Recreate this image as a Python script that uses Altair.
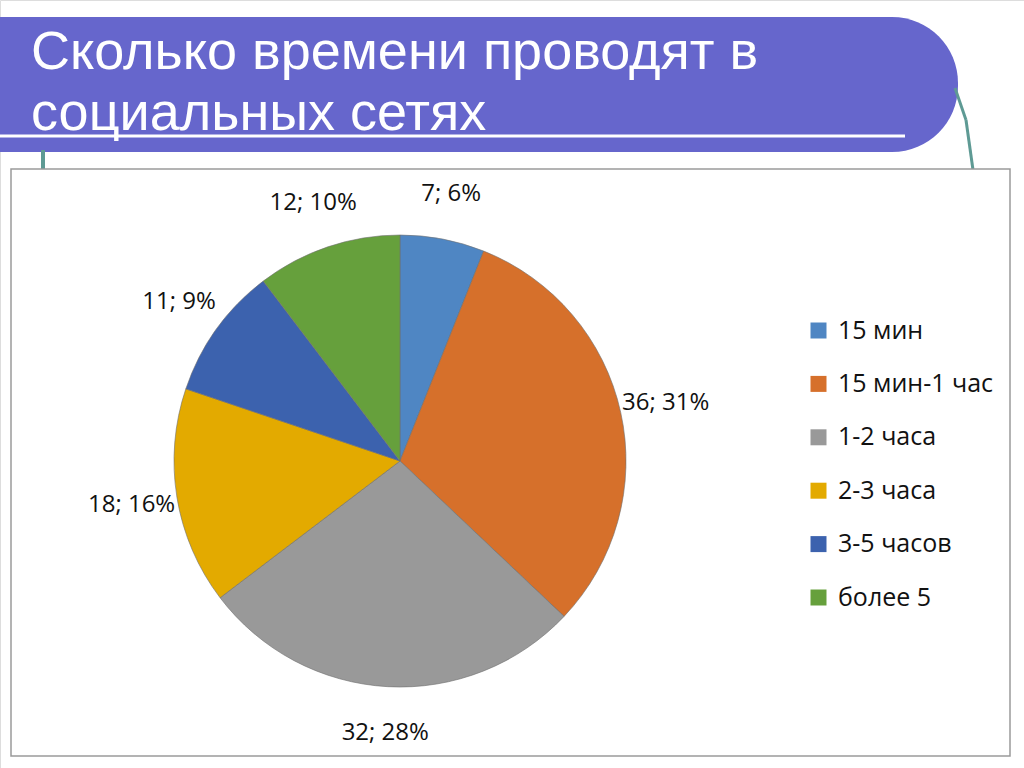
import altair as alt
import pandas as pd

title_lines = ["Сколько времени проводят в", "социальных сетях"]
categories = ["15 мин", "15 мин-1 час", "1-2 часа", "2-3 часа", "3-5 часов", "более 5"]
counts = [7, 36, 32, 18, 11, 12]
percents = [6, 31, 28, 16, 9, 10]
colors = ["#4F86C3", "#D6702B", "#999999", "#E3AA00", "#3C62AE", "#66A03C"]

df = pd.DataFrame({
    "cat": categories,
    "value": counts,
    "order": list(range(len(categories))),
    "label": [f"{c}; {p}%" for c, p in zip(counts, percents)],
})

W, H = 1024, 768
one = pd.DataFrame({"a": [0]})

banner = alt.Chart(one).mark_rect(color="#6666CC", cornerRadius=66).encode(
    x=alt.value(-200), x2=alt.value(958), y=alt.value(17), y2=alt.value(152))
underline = alt.Chart(one).mark_rule(color="white", strokeWidth=3).encode(
    x=alt.value(0), x2=alt.value(905), y=alt.value(136), y2=alt.value(136))
title1 = alt.Chart(one).mark_text(
    text=title_lines[0], font="Liberation Sans", fontSize=54, color="white",
    align="left", baseline="alphabetic").encode(x=alt.value(31), y=alt.value(69))
title2 = alt.Chart(one).mark_text(
    text=title_lines[1], font="Liberation Sans", fontSize=54, color="white",
    align="left", baseline="alphabetic").encode(x=alt.value(31), y=alt.value(130))

teal = "#5E9A94"
tl = alt.Chart(one).mark_rule(color=teal, strokeWidth=4).encode(
    x=alt.value(43), x2=alt.value(43), y=alt.value(150), y2=alt.value(170))
tr1 = alt.Chart(one).mark_rule(color=teal, strokeWidth=3).encode(
    x=alt.value(955), x2=alt.value(966), y=alt.value(88), y2=alt.value(120))
tr2 = alt.Chart(one).mark_rule(color=teal, strokeWidth=3).encode(
    x=alt.value(966), x2=alt.value(973), y=alt.value(120), y2=alt.value(170))

box = alt.Chart(one).mark_rect(fill="white", stroke="#9A9A9A", strokeWidth=1.5).encode(
    x=alt.value(11), x2=alt.value(1010), y=alt.value(169), y2=alt.value(756))

base = alt.Chart(df).encode(
    theta=alt.Theta("value:Q", stack=True),
    order=alt.Order("order:Q"),
    x=alt.value(400), y=alt.value(461),
)
pie = base.mark_arc(outerRadius=226, stroke="#6F6F6F", strokeWidth=0.6).encode(
    color=alt.Color("cat:N", scale=alt.Scale(domain=categories, range=colors),
                    sort=categories,
                    legend=alt.Legend(orient="none", legendX=806, legendY=318, title=None,
                                      symbolType="square", symbolSize=256,
                                      symbolStrokeWidth=0, labelFont="Open Sans",
                                      labelFontSize=25, labelColor="#111111",
                                      rowPadding=27.4, labelOffset=7, padding=0,
                                      labelLimit=300)))
labels = base.mark_text(radius=272, font="Open Sans", fontSize=24, color="#111111").encode(
    text="label:N")

chart = alt.layer(banner, underline, title1, title2, tl, tr1, tr2, box, pie, labels).properties(
    width=W, height=H, padding=0, autosize=alt.AutoSizeParams(type="none")
).configure_view(stroke=None).configure(background="white")

chart.save("out.html", embed_options={"renderer": "svg", "actions": False})
